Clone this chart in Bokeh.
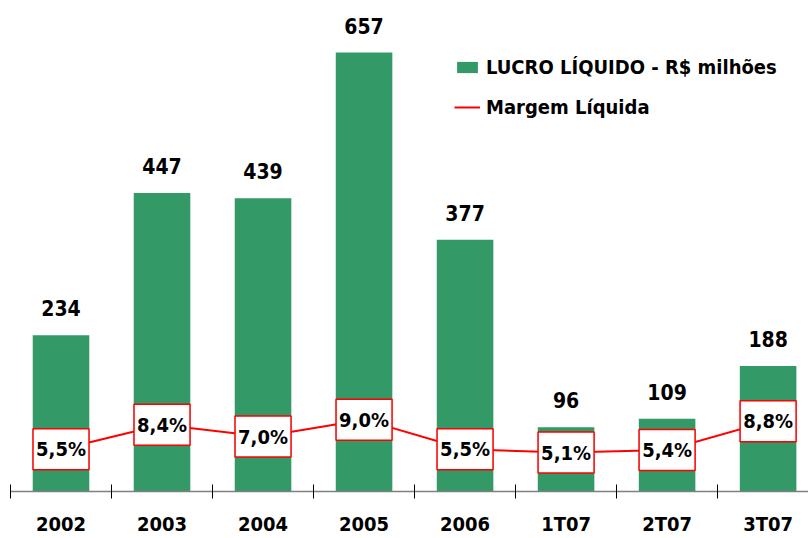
from bokeh.plotting import figure
from bokeh.models import Range1d, FixedTicker, Legend, LegendItem, ColumnDataSource
from bokeh.core.properties import value
from bokeh.embed import file_html
from bokeh.resources import INLINE

categories = ["2002", "2003", "2004", "2005", "2006", "1T07", "2T07", "3T07"]
lucro = [234, 447, 439, 657, 377, 96, 109, 188]
margem = [5.5, 8.4, 7.0, 9.0, 5.5, 5.1, 5.4, 8.8]
margem_labels = ["5,5%", "8,4%", "7,0%", "9,0%", "5,5%", "5,1%", "5,4%", "8,8%"]

FONT = "DejaVu Sans Condensed"
GREEN = "#339966"

xs = list(range(len(categories)))
src = ColumnDataSource(dict(
    x=xs,
    lucro=lucro,
    lucro_txt=[str(v) for v in lucro],
    margem=margem,
    mtxt=margem_labels,
))

p = figure(width=808, height=538,
           x_range=Range1d(-0.5, 7.4), y_range=Range1d(0, 735),
           y_axis_location=None,
           output_backend="svg", toolbar_location=None,
           min_border_left=10, min_border_right=0,
           min_border_top=0, min_border_bottom=46)
p.extra_y_ranges = {"m": Range1d(0.49, 58.65)}

p.xgrid.visible = False
p.ygrid.visible = False
p.outline_line_color = None

ax = p.xaxis[0]
ax.ticker = FixedTicker(ticks=xs, minor_ticks=[i - 0.5 for i in range(len(categories) + 1)])
ax.major_label_overrides = {i: c for i, c in enumerate(categories)}
ax.major_tick_in = 0
ax.major_tick_out = 0
ax.minor_tick_in = 7
ax.minor_tick_out = 7
ax.minor_tick_line_color = "black"
ax.axis_line_color = "#808080"
ax.axis_line_width = 1.5
ax.major_label_text_font = FONT
ax.major_label_text_font_size = "20px"
ax.major_label_text_font_style = "bold"
ax.major_label_text_color = "black"
ax.major_label_standoff = 13

bars = p.vbar(x="x", top="lucro", width=0.56, fill_color=GREEN, line_color=None, source=src)

p.text(x="x", y="lucro", text="lucro_txt", source=src,
       text_align="center", text_baseline="alphabetic", y_offset=-27,
       text_font=value(FONT), text_font_size="21px", text_font_style="bold",
       text_color="black")

line = p.line(x="x", y="margem", y_range_name="m", source=src,
              line_color="#ff0000", line_width=2)

p.rect(x="x", y="margem", width=56, height=41,
       width_units="screen", height_units="screen", y_range_name="m", source=src,
       fill_color="white", line_color="#ff0000", line_width=1.5)

p.text(x="x", y="margem", text="mtxt", y_range_name="m", source=src,
       text_align="center", text_baseline="middle",
       text_font=value(FONT), text_font_size="20px", text_font_style="bold",
       text_color="black")

legend = Legend(items=[
    LegendItem(label="LUCRO LÍQUIDO - R$ milhões", renderers=[bars]),
    LegendItem(label="Margem Líquida", renderers=[line]),
], location=(444, 372), glyph_width=26, glyph_height=14, label_standoff=6,
    spacing=16, padding=0, margin=0, border_line_color=None,
    background_fill_alpha=0, label_text_font=FONT, label_text_font_size="20px",
    label_text_font_style="bold", label_text_color="black")
p.add_layout(legend)

open("out.html", "w").write(file_html(p, INLINE))
